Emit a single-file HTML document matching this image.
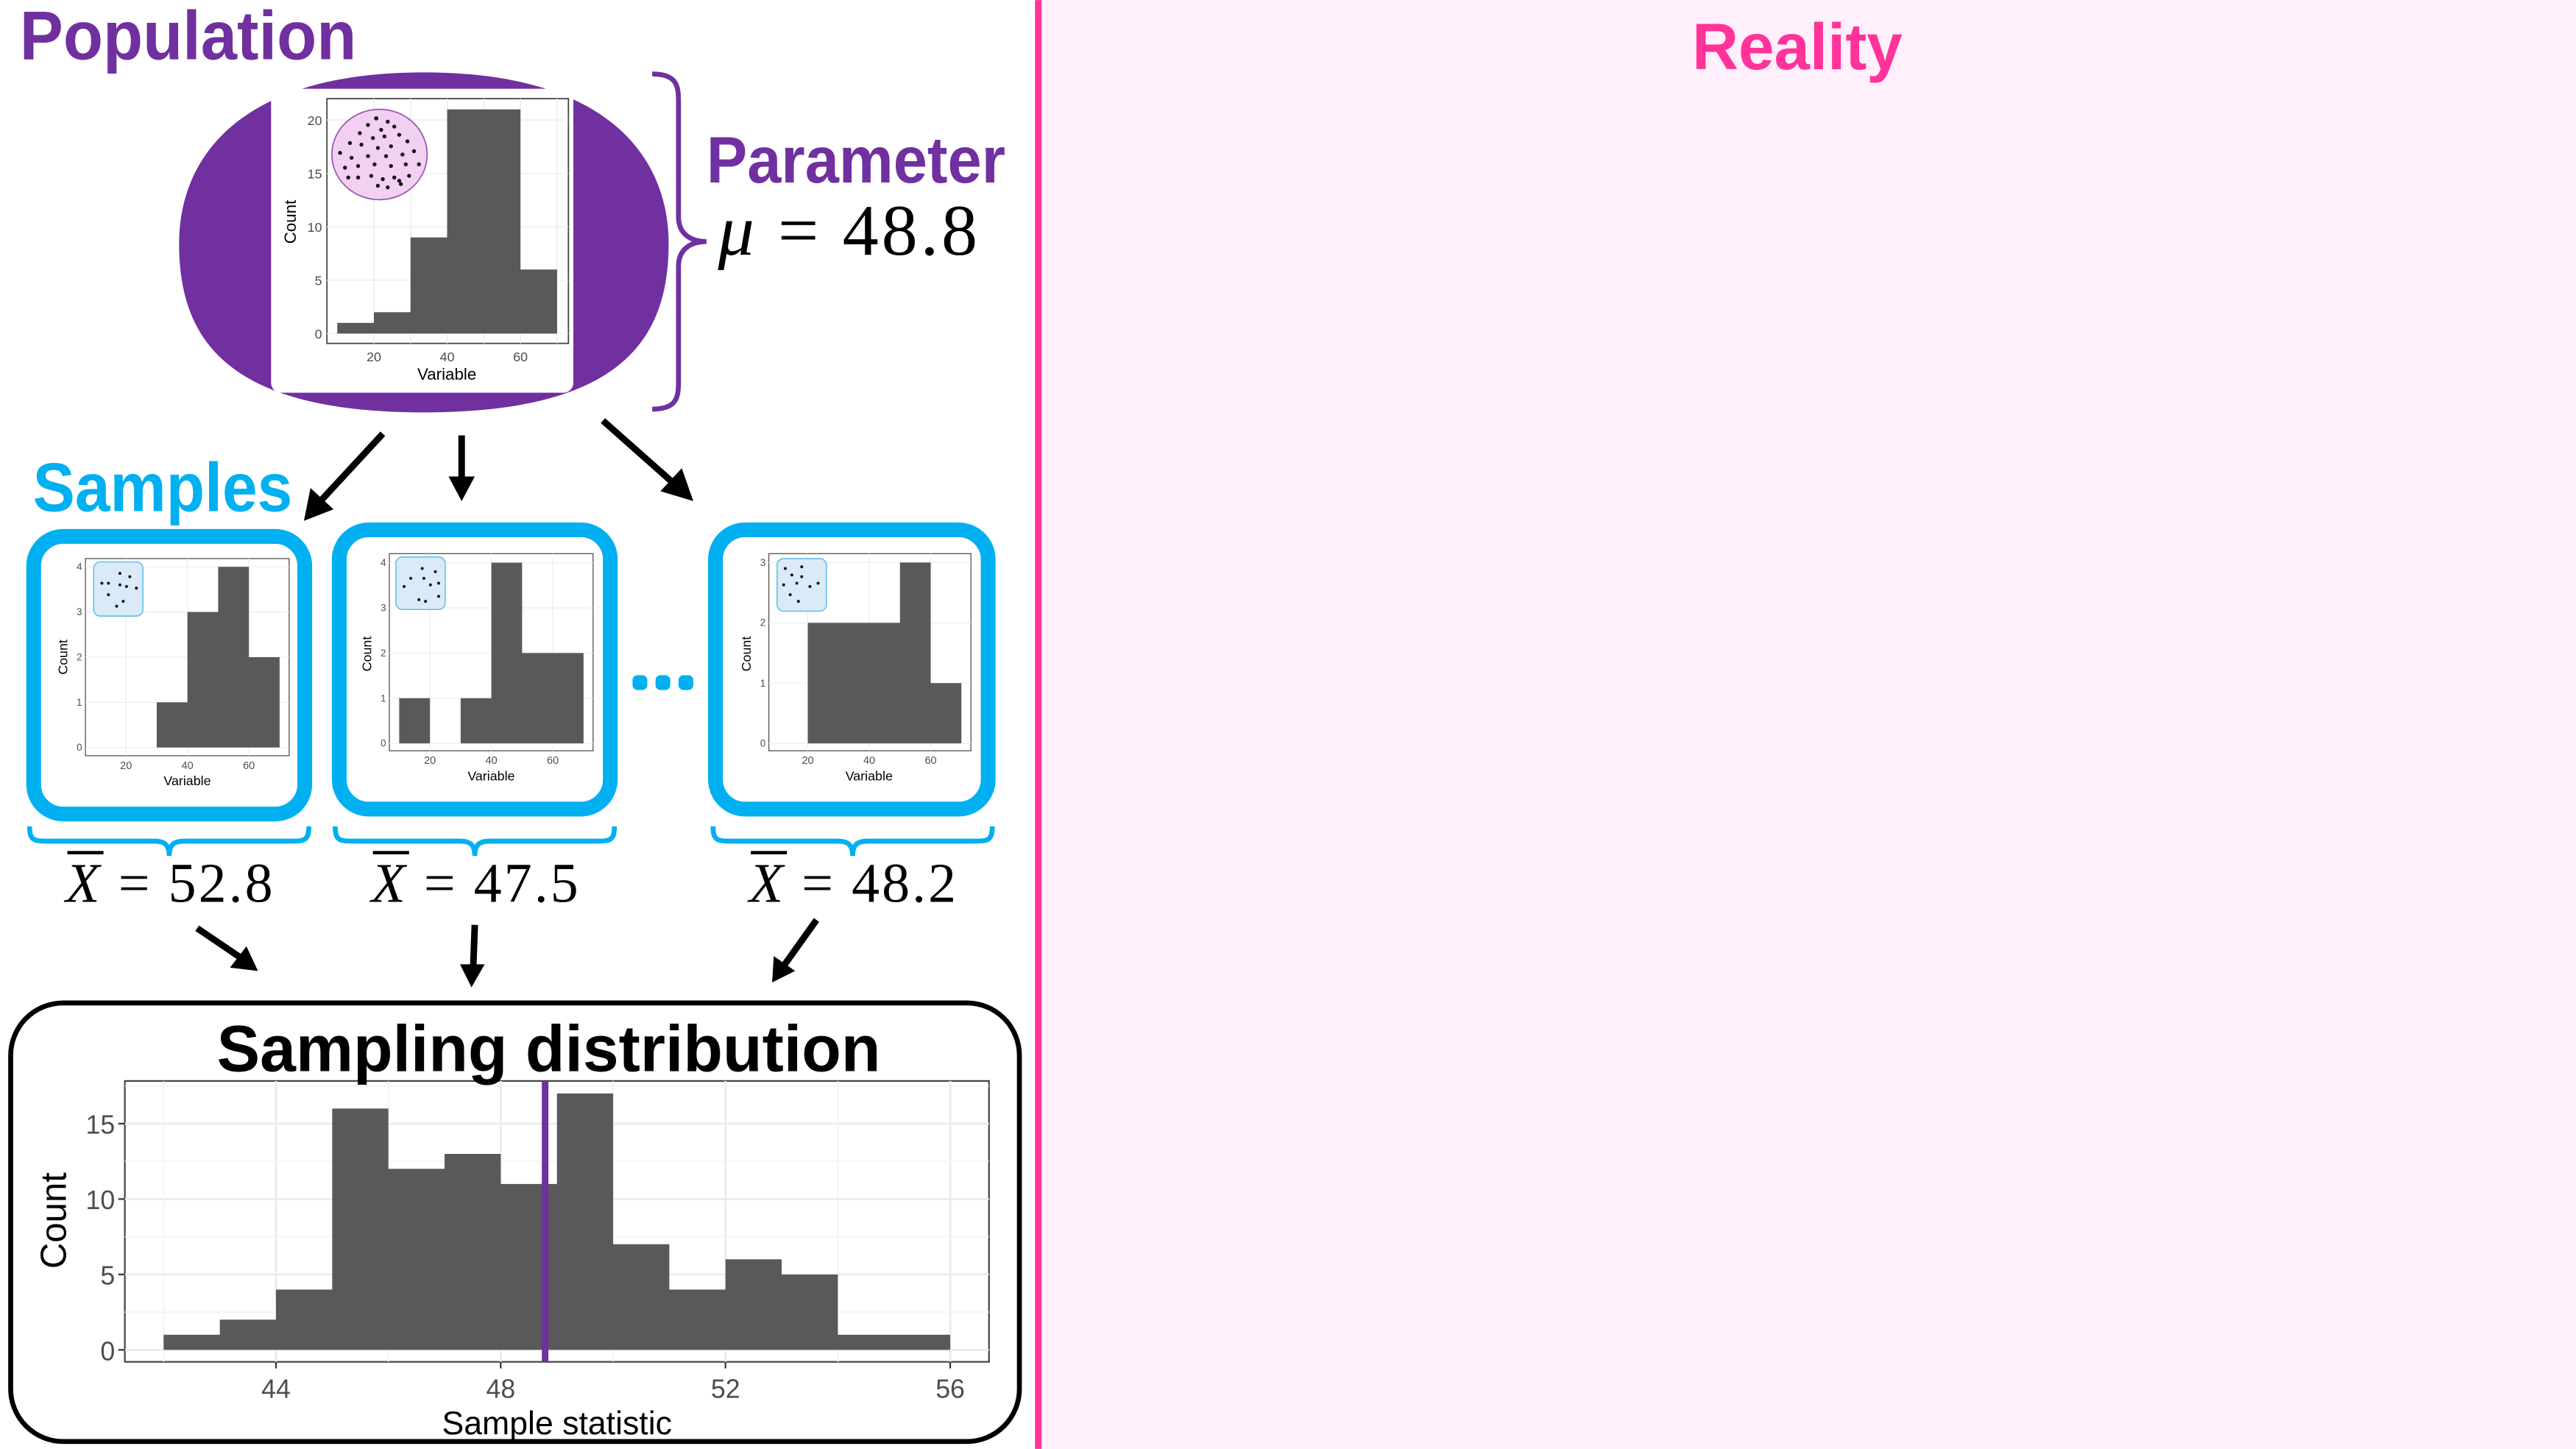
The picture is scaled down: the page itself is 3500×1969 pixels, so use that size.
<!DOCTYPE html>
<html><head><meta charset="utf-8"><style>html,body{margin:0;padding:0;background:#fff}svg{display:block}</style></head>
<body>
<svg xmlns="http://www.w3.org/2000/svg" width="3500" height="1969" viewBox="0 0 1568 882">
<rect x="0" y="0" width="1568" height="882" fill="#fff"/>
<rect x="632" y="0" width="936" height="882" fill="#fff0fb"/>
<rect x="630" y="0" width="4" height="882" fill="#ff3399"/>
<text x="1030" y="42" font-family="Liberation Sans, sans-serif" font-weight="bold" font-size="40" fill="#ff3399" textLength="128" lengthAdjust="spacingAndGlyphs">Reality</text>

<!-- Population -->
<text x="12" y="36" font-family="Liberation Sans, sans-serif" font-weight="bold" font-size="42" fill="#7030a0" textLength="205" lengthAdjust="spacingAndGlyphs">Population</text>
<path d="M258,44 C375,44 407,100 407,148 C407,205 380,251 258,251 C136,251 109,205 109,148 C109,100 141,44 258,44 Z" fill="#7030a0"/>
<rect x="165" y="54" width="184" height="185" rx="6" fill="#fff"/>
<g>
<rect x="199" y="60" width="147" height="149" fill="#fff" stroke="#444" stroke-width="0.8"/>
<g stroke="#ebebeb" stroke-width="0.6">
<line x1="199" x2="346" y1="203" y2="203"/><line x1="199" x2="346" y1="170.5" y2="170.5"/><line x1="199" x2="346" y1="138" y2="138"/><line x1="199" x2="346" y1="105.5" y2="105.5"/><line x1="199" x2="346" y1="73" y2="73"/>
<line y1="60" y2="209" x1="227.6" x2="227.6"/><line y1="60" y2="209" x1="272.2" x2="272.2"/><line y1="60" y2="209" x1="316.8" x2="316.8"/><line y1="60" y2="209" x1="249.9" x2="249.9"/><line y1="60" y2="209" x1="294.5" x2="294.5"/><line y1="60" y2="209" x1="339" x2="339"/>
</g>
<path d="M205.3,203 V196.5 H227.6 V190 H249.9 V144.5 H272.2 V66.5 H316.8 V164 H339.1 V203 Z" fill="#595959"/>
<ellipse cx="231" cy="94" rx="29" ry="27.5" fill="#f2d0f2" stroke="#9b59b6" stroke-width="0.8"/>
<g fill="#111">
<circle cx="229" cy="72" r="1.3"/><circle cx="236" cy="74" r="1.2"/><circle cx="240" cy="77" r="1.2"/><circle cx="232" cy="79" r="1.2"/><circle cx="224" cy="76" r="1.2"/><circle cx="219" cy="81" r="1.2"/><circle cx="227" cy="84" r="1.2"/><circle cx="234" cy="83" r="1.2"/><circle cx="243" cy="82" r="1.2"/><circle cx="248" cy="86" r="1.2"/><circle cx="213" cy="87" r="1.2"/><circle cx="220" cy="88" r="1.2"/><circle cx="230" cy="90" r="1.2"/><circle cx="238" cy="89" r="1.2"/><circle cx="252" cy="92" r="1.2"/><circle cx="245" cy="94" r="1.2"/><circle cx="235" cy="95" r="1.2"/><circle cx="224" cy="95" r="1.2"/><circle cx="214" cy="96" r="1.2"/><circle cx="207" cy="93" r="1.2"/><circle cx="210" cy="102" r="1.2"/><circle cx="218" cy="101" r="1.2"/><circle cx="228" cy="100" r="1.2"/><circle cx="238" cy="101" r="1.2"/><circle cx="247" cy="100" r="1.2"/><circle cx="255" cy="100" r="1.2"/><circle cx="212" cy="108" r="1.2"/><circle cx="218" cy="108" r="1.2"/><circle cx="226" cy="107" r="1.2"/><circle cx="233" cy="109" r="1.2"/><circle cx="240" cy="108" r="1.2"/><circle cx="243" cy="110" r="1.2"/><circle cx="249" cy="107" r="1.2"/><circle cx="230" cy="113" r="1.2"/><circle cx="236" cy="114" r="1.2"/><circle cx="244" cy="112" r="1.2"/>
</g>
<g font-family="Liberation Sans, sans-serif" font-size="8" fill="#4d4d4d" text-anchor="end">
<text x="196" y="76">20</text><text x="196" y="108.5">15</text><text x="196" y="141">10</text><text x="196" y="173.5">5</text><text x="196" y="206">0</text>
</g>
<g font-family="Liberation Sans, sans-serif" font-size="8" fill="#4d4d4d" text-anchor="middle">
<text x="227.6" y="220">20</text><text x="272.2" y="220">40</text><text x="316.8" y="220">60</text>
</g>
<text x="272" y="231" font-family="Liberation Sans, sans-serif" font-size="10" text-anchor="middle">Variable</text>
<text transform="translate(180,135) rotate(-90)" font-family="Liberation Sans, sans-serif" font-size="10" text-anchor="middle">Count</text>
</g>

<path d="M397,45 C412,45 413,52 413,62 L413,132 C413,142 420,147 430,147 C420,147 413,152 413,162 L413,232 C413,242 412,249 397,249" fill="none" stroke="#7030a0" stroke-width="3"/>
<text x="430" y="111" font-family="Liberation Sans, sans-serif" font-weight="bold" font-size="40" fill="#7030a0" textLength="182" lengthAdjust="spacingAndGlyphs">Parameter</text>
<text x="437" y="155" font-family="Liberation Serif, serif" font-size="44" fill="#000" textLength="158" lengthAdjust="spacing"><tspan font-style="italic">μ</tspan> = 48.8</text>

<!-- arrows top -->
<g stroke="#000" stroke-width="4" fill="none">
<line x1="233" y1="264" x2="196" y2="304"/>
<line x1="281" y1="265" x2="281" y2="293"/>
<line x1="367" y1="256" x2="411" y2="295"/>
</g>
<g fill="#000">
<polygon points="185,317 189,297 203,310"/>
<polygon points="281,305 273,290 289,290"/>
<polygon points="422,305 402,299 415,285"/>
</g>

<text x="20" y="311" font-family="Liberation Sans, sans-serif" font-weight="bold" font-size="42" fill="#00b0f0" textLength="158" lengthAdjust="spacingAndGlyphs">Samples</text>

<!-- sample boxes -->
<g fill="#fff" stroke="#00b0f0" stroke-width="9">
<rect x="20.5" y="326.5" width="165" height="169" rx="18"/>
<rect x="206.5" y="322.5" width="165" height="170" rx="18"/>
<rect x="435.5" y="322.5" width="166" height="170" rx="18"/>
</g>
<g font-family="Liberation Sans, sans-serif">
<!-- box1 -->
<rect x="52" y="340" width="124" height="120" fill="#fff" stroke="#555" stroke-width="0.6"/>
<g stroke="#ebebeb" stroke-width="0.5">
<line x1="52" x2="176" y1="455" y2="455"/><line x1="52" x2="176" y1="427.5" y2="427.5"/><line x1="52" x2="176" y1="400" y2="400"/><line x1="52" x2="176" y1="372.5" y2="372.5"/><line x1="52" x2="176" y1="345" y2="345"/>
<line y1="340" y2="460" x1="76.7" x2="76.7"/><line y1="340" y2="460" x1="114.1" x2="114.1"/><line y1="340" y2="460" x1="151.5" x2="151.5"/>
</g>
<path d="M95.4,455 V427.5 H114.1 V372.5 H132.8 V345 H151.5 V400 H170.2 V455 Z" fill="#595959"/>
<rect x="57" y="342" width="30" height="33" rx="4" fill="#dbeaf7" stroke="#5bc0eb" stroke-width="0.7"/>
<g fill="#111"><circle cx="62" cy="355" r="0.9"/><circle cx="66" cy="355" r="0.9"/><circle cx="73" cy="349" r="0.9"/><circle cx="79" cy="351" r="0.9"/><circle cx="73" cy="356" r="0.9"/><circle cx="77" cy="357" r="0.9"/><circle cx="83" cy="358" r="0.9"/><circle cx="66" cy="362" r="0.9"/><circle cx="75" cy="366" r="0.9"/><circle cx="71" cy="369" r="0.9"/></g>
<g font-size="6" fill="#4d4d4d" text-anchor="end"><text x="50" y="347">4</text><text x="50" y="374.5">3</text><text x="50" y="402">2</text><text x="50" y="429.5">1</text><text x="50" y="457">0</text></g>
<g font-size="6.5" fill="#4d4d4d" text-anchor="middle"><text x="76.7" y="468">20</text><text x="114.1" y="468">40</text><text x="151.5" y="468">60</text></g>
<text x="114" y="478" font-size="8" text-anchor="middle">Variable</text>
<text transform="translate(41,400) rotate(-90)" font-size="8" text-anchor="middle">Count</text>
<!-- box2 -->
<rect x="237" y="337" width="124" height="120" fill="#fff" stroke="#555" stroke-width="0.6"/>
<g stroke="#ebebeb" stroke-width="0.5">
<line x1="237" x2="361" y1="452.5" y2="452.5"/><line x1="237" x2="361" y1="425" y2="425"/><line x1="237" x2="361" y1="397.5" y2="397.5"/><line x1="237" x2="361" y1="370" y2="370"/><line x1="237" x2="361" y1="342.5" y2="342.5"/>
<line y1="337" y2="457" x1="261.7" x2="261.7"/><line y1="337" y2="457" x1="299.1" x2="299.1"/><line y1="337" y2="457" x1="336.5" x2="336.5"/>
</g>
<path d="M243,452.5 V425 H261.7 V452.5 Z M280.4,452.5 V425 H299.1 V342.5 H317.8 V397.5 H355.2 V452.5 Z" fill="#595959"/>
<rect x="241" y="339" width="30" height="32" rx="4" fill="#dbeaf7" stroke="#5bc0eb" stroke-width="0.7"/>
<g fill="#111"><circle cx="257" cy="346" r="0.9"/><circle cx="265" cy="348" r="0.9"/><circle cx="250" cy="352" r="0.9"/><circle cx="258" cy="352" r="0.9"/><circle cx="246" cy="357" r="0.9"/><circle cx="262" cy="356" r="0.9"/><circle cx="267" cy="355" r="0.9"/><circle cx="255" cy="365" r="0.9"/><circle cx="259" cy="366" r="0.9"/><circle cx="267" cy="363" r="0.9"/></g>
<g font-size="6" fill="#4d4d4d" text-anchor="end"><text x="235" y="344.5">4</text><text x="235" y="372">3</text><text x="235" y="399.5">2</text><text x="235" y="427">1</text><text x="235" y="454.5">0</text></g>
<g font-size="6.5" fill="#4d4d4d" text-anchor="middle"><text x="261.7" y="465">20</text><text x="299.1" y="465">40</text><text x="336.5" y="465">60</text></g>
<text x="299" y="475" font-size="8" text-anchor="middle">Variable</text>
<text transform="translate(226,398) rotate(-90)" font-size="8" text-anchor="middle">Count</text>
<!-- box3 -->
<rect x="468" y="337" width="123" height="120" fill="#fff" stroke="#555" stroke-width="0.6"/>
<g stroke="#ebebeb" stroke-width="0.5">
<line x1="468" x2="591" y1="452.5" y2="452.5"/><line x1="468" x2="591" y1="415.8" y2="415.8"/><line x1="468" x2="591" y1="379.1" y2="379.1"/><line x1="468" x2="591" y1="342.4" y2="342.4"/>
<line y1="337" y2="457" x1="491.7" x2="491.7"/><line y1="337" y2="457" x1="529.1" x2="529.1"/><line y1="337" y2="457" x1="566.5" x2="566.5"/>
</g>
<path d="M491.7,452.5 V379.1 H547.8 V342.4 H566.5 V415.8 H585.2 V452.5 Z" fill="#595959"/>
<rect x="473" y="340" width="30" height="32" rx="4" fill="#dbeaf7" stroke="#5bc0eb" stroke-width="0.7"/>
<g fill="#111"><circle cx="478" cy="346" r="0.9"/><circle cx="488" cy="345" r="0.9"/><circle cx="482" cy="350" r="0.9"/><circle cx="488" cy="351" r="0.9"/><circle cx="477" cy="356" r="0.9"/><circle cx="485" cy="355" r="0.9"/><circle cx="493" cy="357" r="0.9"/><circle cx="498" cy="355" r="0.9"/><circle cx="481" cy="362" r="0.9"/><circle cx="486" cy="366" r="0.9"/></g>
<g font-size="6" fill="#4d4d4d" text-anchor="end"><text x="466" y="344.5">3</text><text x="466" y="381">2</text><text x="466" y="418">1</text><text x="466" y="454.5">0</text></g>
<g font-size="6.5" fill="#4d4d4d" text-anchor="middle"><text x="491.7" y="465">20</text><text x="529.1" y="465">40</text><text x="566.5" y="465">60</text></g>
<text x="529" y="475" font-size="8" text-anchor="middle">Variable</text>
<text transform="translate(457,398) rotate(-90)" font-size="8" text-anchor="middle">Count</text>
</g>

<!-- dots -->
<g fill="#00b0f0"><rect x="385" y="411" width="9" height="9" rx="3"/><rect x="399" y="411" width="9" height="9" rx="3"/><rect x="413" y="411" width="9" height="9" rx="3"/></g>

<!-- braces -->
<g fill="none" stroke="#00b0f0" stroke-width="3">
<path d="M18,503 C18,512 21,512 30,512 L94,512 C100,512 103,514 103,521 C103,514 106,512 112,512 L176,512 C185,512 188,512 188,503"/>
<path d="M204,503 C204,512 207,512 216,512 L280,512 C286,512 289,514 289,521 C289,514 292,512 298,512 L362,512 C371,512 374,512 374,503"/>
<path d="M434,503 C434,512 437,512 446,512 L510,512 C516,512 519,514 519,521 C519,514 522,512 528,512 L592,512 C601,512 604,512 604,503"/>
</g>
<g font-family="Liberation Serif, serif" font-size="34" fill="#000">
<text x="40" y="549" textLength="126" lengthAdjust="spacing"><tspan font-style="italic">X</tspan> = 52.8</text>
<text x="226" y="549" textLength="126" lengthAdjust="spacing"><tspan font-style="italic">X</tspan> = 47.5</text>
<text x="456" y="549" textLength="126" lengthAdjust="spacing"><tspan font-style="italic">X</tspan> = 48.2</text>
</g>
<g stroke="#000" stroke-width="2"><line x1="41" y1="519" x2="63" y2="519"/><line x1="227" y1="519" x2="249" y2="519"/><line x1="457" y1="519" x2="479" y2="519"/></g>

<!-- arrows bottom -->
<g stroke="#000" stroke-width="4" fill="none">
<line x1="120" y1="565" x2="148" y2="584"/>
<line x1="289" y1="563" x2="288" y2="590"/>
<line x1="497" y1="560" x2="477" y2="588"/>
</g>
<g fill="#000">
<polygon points="157,591 140,589 150,576"/>
<polygon points="287,601 280,587 295,587"/>
<polygon points="470,598 471,582 484,591"/>
</g>

<!-- Sampling distribution -->
<rect x="6.5" y="610.5" width="614" height="267" rx="32" fill="#fff" stroke="#000" stroke-width="3"/>
<g font-family="Liberation Sans, sans-serif">
<rect x="76" y="658" width="526" height="171" fill="#fff" stroke="#444" stroke-width="1"/>
<g stroke="#ebebeb" stroke-width="1.2">
<line x1="76" x2="602" y1="821.7" y2="821.7"/><line x1="76" x2="602" y1="775.8" y2="775.8"/><line x1="76" x2="602" y1="729.9" y2="729.9"/><line x1="76" x2="602" y1="684" y2="684"/>
<line y1="658" y2="829" x1="168" x2="168"/><line y1="658" y2="829" x1="304.8" x2="304.8"/><line y1="658" y2="829" x1="441.6" x2="441.6"/><line y1="658" y2="829" x1="578.4" x2="578.4"/>
</g>
<g stroke="#f2f2f2" stroke-width="0.7">
<line x1="76" x2="602" y1="798.7" y2="798.7"/><line x1="76" x2="602" y1="752.8" y2="752.8"/><line x1="76" x2="602" y1="706.9" y2="706.9"/><line x1="76" x2="602" y1="661" y2="661"/>
<line y1="658" y2="829" x1="99.6" x2="99.6"/><line y1="658" y2="829" x1="236.4" x2="236.4"/><line y1="658" y2="829" x1="373.2" x2="373.2"/><line y1="658" y2="829" x1="510" x2="510"/>
</g>
<path d="M99.6,821.7 V812.5 H133.8 V803.3 H168 V785 H202.2 V674.8 H236.4 V711.5 H270.6 V702.4 H304.8 V720.7 H339 V665.6 H373.2 V757.4 H407.4 V785 H441.6 V766.6 H475.8 V775.8 H510 V812.5 H578.4 V821.7 Z" fill="#595959"/>
<rect x="329.8" y="658" width="4" height="171" fill="#7030a0"/>
<g font-size="16" fill="#4d4d4d" text-anchor="end"><text x="70" y="690">15</text><text x="70" y="736">10</text><text x="70" y="782">5</text><text x="70" y="828">0</text></g>
<g stroke="#333" stroke-width="1"><line x1="72" x2="76" y1="684" y2="684"/><line x1="72" x2="76" y1="729.9" y2="729.9"/><line x1="72" x2="76" y1="775.8" y2="775.8"/><line x1="72" x2="76" y1="821.7" y2="821.7"/>
<line x1="168" x2="168" y1="829" y2="833"/><line x1="304.8" x2="304.8" y1="829" y2="833"/><line x1="441.6" x2="441.6" y1="829" y2="833"/><line x1="578.4" x2="578.4" y1="829" y2="833"/></g>
<g font-size="16" fill="#4d4d4d" text-anchor="middle"><text x="168" y="851">44</text><text x="304.8" y="851">48</text><text x="441.6" y="851">52</text><text x="578.4" y="851">56</text></g>
<text x="339" y="873" font-size="20" text-anchor="middle">Sample statistic</text>
<text transform="translate(40,743) rotate(-90)" font-size="22" text-anchor="middle">Count</text>
<text x="132" y="652" font-weight="bold" font-size="40" fill="#000" textLength="404" lengthAdjust="spacingAndGlyphs">Sampling distribution</text>
</g>
</svg>
</body></html>
